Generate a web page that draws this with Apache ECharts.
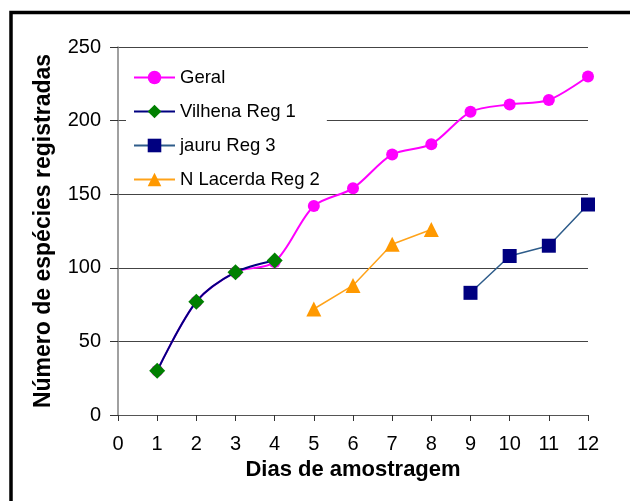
<!DOCTYPE html>
<html>
<head>
<meta charset="utf-8">
<script src="https://cdn.jsdelivr.net/npm/echarts@6/dist/echarts.min.js"></script>
<style>
  html, body { margin: 0; padding: 0; background: #fff; }
  #chart { width: 630px; height: 501px; }
</style>
</head>
<body>
<div id="chart"></div>
<script>
// Sampling days and cumulative species counts per region
const geralDays = [1, 2, 3, 4, 5, 6, 7, 8, 9, 10, 11, 12];
const geralValues = [30, 77, 97, 104, 142, 154, 177, 184, 206, 211, 214, 230];

const vilhenaDays = [1, 2, 3, 4];
const vilhenaValues = [30, 77, 97, 105];

const jauruDays = [9, 10, 11, 12];
const jauruValues = [83, 108, 115, 143];

const lacerdaDays = [5, 6, 7, 8];
const lacerdaValues = [72, 88, 116, 126];

const seriesNames = ['Geral', 'Vilhena Reg 1', 'jauru Reg 3', 'N Lacerda Reg 2'];
const xTicks = [0, 12, 1];     // min, max, interval
const yTicks = [0, 250, 50];   // min, max, interval

const pairs = (xs, ys) => xs.map((x, i) => [x, ys[i]]);

const chart = echarts.init(document.getElementById('chart'), null, { renderer: 'canvas' });

const font = 'Arial, "Liberation Sans", Helvetica, sans-serif';

chart.setOption({
  animation: false,
  backgroundColor: '#fff',
  textStyle: { fontFamily: font },
  grid: { left: 118, right: 42, top: 47, bottom: 86 },
  xAxis: {
    type: 'value',
    min: xTicks[0], max: xTicks[1], interval: xTicks[2],
    name: 'Dias de amostragem',
    nameLocation: 'middle',
    nameGap: 36,
    nameTextStyle: { fontFamily: font, fontSize: 22, fontWeight: 'bold', color: '#000' },
    axisLine: { lineStyle: { color: '#555', width: 1 } },
    axisTick: { show: true, inside: false, length: 6, lineStyle: { color: '#333' } },
    axisLabel: { fontFamily: font, fontSize: 20, color: '#000', margin: 19 },
    splitLine: { show: false }
  },
  yAxis: {
    type: 'value',
    min: yTicks[0], max: yTicks[1], interval: yTicks[2],
    name: 'Número de espécies registradas',
    nameLocation: 'middle',
    nameGap: 63,
    nameTextStyle: { fontFamily: font, fontSize: 23, fontWeight: 'bold', color: '#000' },
    axisLine: { show: true, lineStyle: { color: '#808080', width: 1.5 } },
    axisTick: { show: true, inside: false, length: 8, lineStyle: { color: '#333' } },
    axisLabel: { fontFamily: font, fontSize: 20, color: '#000', margin: 17 },
    splitLine: { show: true, lineStyle: { color: '#444', width: 1 } }
  },
  legend: {
    left: 126,
    top: 58,
    orient: 'vertical',
    backgroundColor: '#fff',
    padding: [9, 7, 3, 7],
    itemGap: 13,
    itemWidth: 41,
    itemHeight: 17,
    textStyle: { fontFamily: font, fontSize: 18.5, color: '#000', lineHeight: 21 },
    data: seriesNames
  },
  graphic: [{
    type: 'rect',
    silent: true,
    z: 100,
    shape: { x: 11, y: 12.5, width: 700, height: 600 },
    style: { fill: null, stroke: '#000', lineWidth: 3.5 }
  }],
  series: [
    {
      name: seriesNames[0],
      type: 'line',
      smooth: 0.3,
      z: 2,
      data: pairs(geralDays, geralValues),
      symbol: 'circle',
      symbolSize: 12,
      lineStyle: { color: '#FF00FF', width: 2 },
      itemStyle: { color: '#FF00FF' }
    },
    {
      name: seriesNames[1],
      type: 'line',
      smooth: 0.3,
      z: 3,
      data: pairs(vilhenaDays, vilhenaValues),
      symbol: 'diamond',
      symbolSize: 16,
      lineStyle: { color: '#000080', width: 2 },
      itemStyle: { color: '#008000' }
    },
    {
      name: seriesNames[2],
      type: 'line',
      z: 3,
      data: pairs(jauruDays, jauruValues),
      symbol: 'rect',
      symbolSize: 14,
      lineStyle: { color: '#2E5C8A', width: 1.5 },
      itemStyle: { color: '#000080' }
    },
    {
      name: seriesNames[3],
      type: 'line',
      z: 3,
      data: pairs(lacerdaDays, lacerdaValues),
      symbol: 'triangle',
      symbolSize: 15,
      lineStyle: { color: '#FFA31A', width: 1.5 },
      itemStyle: { color: '#FF9900' }
    }
  ]
});
</script>
</body>
</html>
